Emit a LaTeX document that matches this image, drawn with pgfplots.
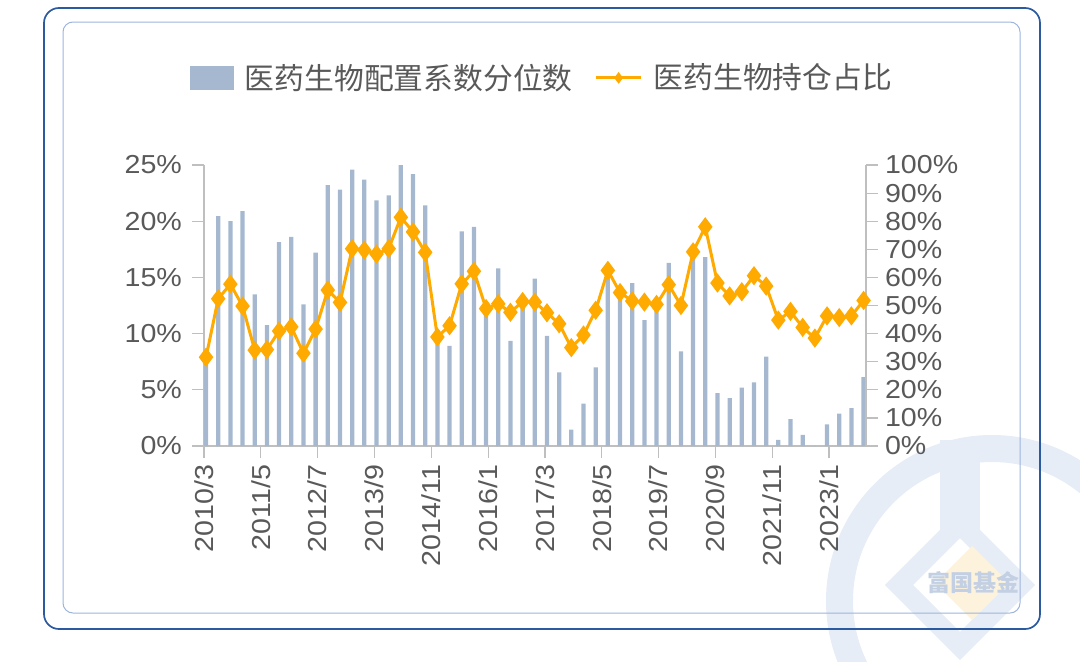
\documentclass[border=0pt]{standalone}
\usepackage{pgfplots}
\usepackage{pgfplotstable}
\pgfplotsset{compat=1.18}
\usepackage{fontspec}
\setmainfont{Liberation Sans}[FakeStretch=1.1]
\newfontfamily\cjk{Noto Sans CJK SC}
\definecolor{barcol}{HTML}{A5B8CF}
\definecolor{linecol}{HTML}{FFAA00}
\definecolor{axisgray}{HTML}{BFBFBF}
\definecolor{tickgray}{HTML}{595959}
\definecolor{outerblue}{HTML}{2C5AA0}
\definecolor{innerblue}{HTML}{9DB5DD}
\definecolor{wm}{HTML}{E6EDF6}
\definecolor{wmtext}{HTML}{C3D0E3}
\definecolor{wmdia}{HTML}{FDF3DD}

\pgfplotstableread{
x bar share
0.5 7.9 31.6
3.5 20.45 52.4
6.5 20.0 57.6
9.5 20.9 49.8
12.5 13.5 34.1
15.5 10.75 34.3
18.5 18.15 40.9
21.5 18.6 42.4
24.5 12.6 33.0
27.5 17.2 41.6
30.5 23.2 55.5
33.5 22.8 51.1
36.5 24.6 70.2
39.5 23.7 69.7
42.5 21.85 68.3
45.5 22.3 70.2
48.5 25.0 81.4
51.5 24.2 76.2
54.5 21.4 68.9
57.5 9.9 38.8
60.5 8.9 42.8
63.5 19.1 57.7
66.5 19.5 62.2
69.5 11.7 48.9
72.5 15.8 50.6
75.5 9.35 47.6
78.5 13.1 51.4
81.5 14.9 51.2
84.5 9.8 47.4
87.5 6.56 43.5
90.5 1.46 35.0
93.5 3.77 39.5
96.5 7.0 48.3
99.5 15.8 62.5
102.5 13.6 54.6
105.5 14.5 51.6
108.5 11.2 51.2
111.5 12.3 50.4
114.5 16.3 57.4
117.5 8.43 50.0
120.5 16.8 69.1
123.5 16.8 78.0
126.5 4.7 58.0
129.5 4.25 53.4
132.5 5.2 54.9
135.5 5.67 60.6
138.5 7.96 56.9
141.5 0.54 44.8
144.5 2.4 47.9
147.5 1.0 42.2
150.5 0 38.4
153.5 1.93 46.3
156.5 2.88 45.7
159.5 3.36 46.3
162.5 6.12 51.8
}\datatab

\begin{document}
\begin{tikzpicture}
\path[use as bounding box] (0pt,0pt) rectangle (540pt,330.5pt);
% decorations in pixel coordinates (origin top-left, 1px = 0.5pt)
\begin{scope}[x=0.5pt,y=-0.5pt,shift={(0pt,330.5pt)}]
\begin{scope}
\clip (0,0) rectangle (1080,661);
\fill[wm, even odd rule] (992,601) circle[radius=166] (992,601) circle[radius=139];
\fill[wm] (940,440) rectangle (980,530);
\draw[wm, line width=10pt, line join=miter] (960,524) -- (899,585) -- (960,646) -- (1021,585) -- cycle;
\fill[wmdia] (972,546) -- (1009,583) -- (972,620) -- (935,583) -- cycle;
\node[text=wmtext, font=\cjk\bfseries\fontsize{11.5}{13}\selectfont] at (973,583) {富国基金};
\end{scope}
\draw[outerblue, line width=0.85pt, rounded corners=7.5pt] (44,8) rectangle (1040,629);
\draw[innerblue, line width=0.5pt, rounded corners=5pt] (63,22) rectangle (1020,613);
\end{scope}

\begin{axis}[
  at={(102pt,107.5pt)}, anchor=south west,
  width=331pt, height=140.5pt, scale only axis,
  xmin=0, xmax=163.1, ymin=0, ymax=25,
  axis x line*=bottom, axis y line*=left,
  axis line style={-, axisgray, line width=0.6pt},
  tick align=outside, major tick length=6pt,
  tick style={axisgray, line width=0.6pt},
  xtick={0,14,...,154},
  xticklabels={2010/3,2011/5,2012/7,2013/9,2014/11,2016/1,2017/3,2018/5,2019/7,2020/9,2021/11,2023/1},
  x tick label style={rotate=90, anchor=east},
  ytick={0,5,...,25},
  yticklabels={0\%,5\%,10\%,15\%,20\%,25\%},
  tick label style={font=\fontsize{13}{15}\selectfont, text=tickgray},
  y tick label style={xshift=-1.5pt},
  legend style={draw=none, fill=none, at={(0.512,1.31)}, anchor=center,
    legend columns=2, font=\cjk\fontsize{14.9}{17}\selectfont, text=tickgray,
    /tikz/every odd column/.append style={column sep=3.5pt},
    /tikz/every even column/.append style={column sep=9pt}},
  clip=true,
]
\addplot[ybar, bar width=1.05, fill=barcol, draw=none,
  legend image code/.code={\fill[barcol] (0pt,-6pt) rectangle (22pt,6pt);}]
  table[x=x,y=bar]{\datatab};
\addlegendentry{医药生物配置系数分位数}
\addlegendimage{legend image code/.code={
  \draw[linecol, line width=1.5pt] (0pt,0pt) -- (22.5pt,0pt);
  \path[linecol] plot[mark=diamond*, mark size=2.6pt, mark options={fill=linecol, draw=linecol}] coordinates {(11.25pt,0pt)};}}
\addlegendentry{医药生物持仓占比}
\end{axis}

\begin{axis}[
  at={(102pt,107.5pt)}, anchor=south west,
  width=331pt, height=140.5pt, scale only axis,
  xmin=0, xmax=163.1, ymin=0, ymax=100,
  axis x line=none, axis y line*=right,
  axis line style={-, axisgray, line width=0.6pt},
  tick align=outside, major tick length=6pt,
  tick style={axisgray, line width=0.6pt},
  xtick=\empty,
  ytick={0,10,...,100},
  yticklabels={0\%,10\%,20\%,30\%,40\%,50\%,60\%,70\%,80\%,90\%,100\%},
  tick label style={font=\fontsize{13}{15}\selectfont, text=tickgray},
  clip=false,
]
\addplot[linecol, line width=1.5pt, mark=diamond*, mark size=3.6pt,
  mark options={solid, fill=linecol, draw=linecol}]
  table[x=x,y=share]{\datatab};
\end{axis}
\end{tikzpicture}
\end{document}
